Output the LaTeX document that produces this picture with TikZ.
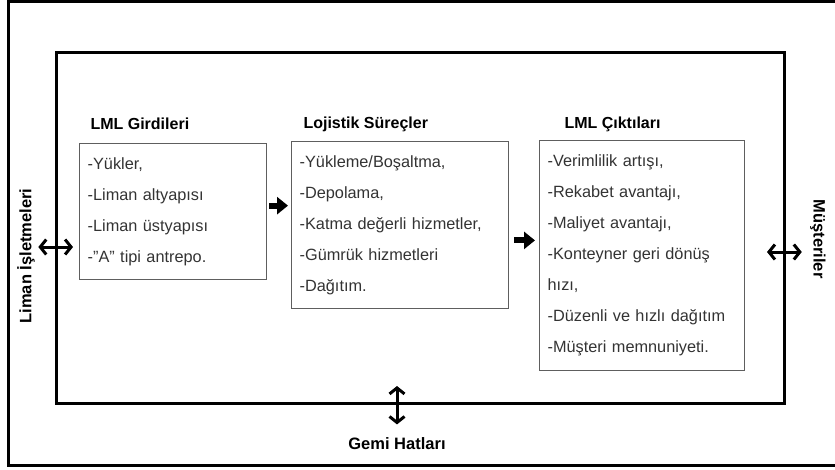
\documentclass[tikz,border=0pt]{standalone}
\usepackage{fontspec}
\setmainfont{Liberation Sans}
\usetikzlibrary{arrows.meta,calc}
\definecolor{ink}{HTML}{333333}
\definecolor{rim}{HTML}{5E5E5E}

\begin{document}
\begin{tikzpicture}[x=1pt,y=-1pt,
  listbox/.style={draw=rim,line width=1.3pt,align=left,inner xsep=8pt,
    anchor=north west,text=ink,font=\fontsize{16.3}{31}\selectfont},
  head/.style={anchor=west,font=\bfseries\fontsize{16}{19}\selectfont},
  side/.style={font=\bfseries\fontsize{16.5}{19}\selectfont},
  flow/.style={line width=6pt,-{Triangle[length=11pt,width=17pt]}},
  dbl/.style={line width=3pt,
    {Straight Barb[length=6pt,width=15pt]}-{Straight Barb[length=6pt,width=15pt]}}]
\useasboundingbox (0,0) rectangle (835,469);
% outer frame (open on the right)
\draw[line width=3pt] (835,1.5) -- (8.5,1.5) -- (8.5,465) -- (835,465);
% system frame
\node[draw,line width=3pt,minimum width=728pt,minimum height=351pt,
  anchor=north west,inner sep=0pt] (sys) at (55,51) {};

% the three boxes
\node[head] at (87,124) {LML Girdileri};
\node[listbox,text width=171pt,minimum height=136pt] (g) at (79,143)
  {-Yükler,\\-Liman altyapısı\\-Liman üstyapısı\\-"A" tipi antrepo.};
\node[head] at (300,124) {Lojistik Süreçler};
\node[listbox,text width=201pt,minimum height=167pt] (l) at (291,141)
  {-Yükleme/Boşaltma,\\-Depolama,\\-Katma değerli hizmetler,\\-Gümrük hizmetleri\\-Dağıtım.};
\node[head] at (561,124) {LML Çıktıları};
\node[listbox,text width=189pt,minimum height=230pt] (o) at (539,140)
  {-Verimlilik artışı,\\-Rekabet avantajı,\\-Maliyet avantajı,\\-Konteyner geri dönüş\\hızı,\\-Düzenli ve hızlı dağıtım\\-Müşteri memnuniyeti.};

\draw[flow] ($(g.east)+(2,-6)$) -- ($(g.east -| l.west)+(-3,-6)$);
\coordinate (m) at ($(l.east)!.5!(o.west)$);
\draw[flow] ($(l.east |- m)+(5,0)$) -- ($(o.west |- m)+(-4,0)$);

% outside parties
\node[side,rotate=90] (lm) at (26,256) {Liman İşletmeleri};
\node[side,rotate=-90] (ms) at (818,239) {Müşteriler};
\node[side] (gh) at (397,444) {Gemi Hatları};

\draw[dbl] ($(lm.south)+(0,-9)$) -- ($(sys.west |- lm.south)+(18,-9)$);
\draw[dbl] ($(sys.east |- ms.south)+(-19,13)$) -- ($(ms.south)+(-5,13)$);
\draw[dbl] ($(sys.south -| gh.north)+(0,-19)$) -- ($(gh.north)+(0,-10)$);
\end{tikzpicture}
\end{document}
